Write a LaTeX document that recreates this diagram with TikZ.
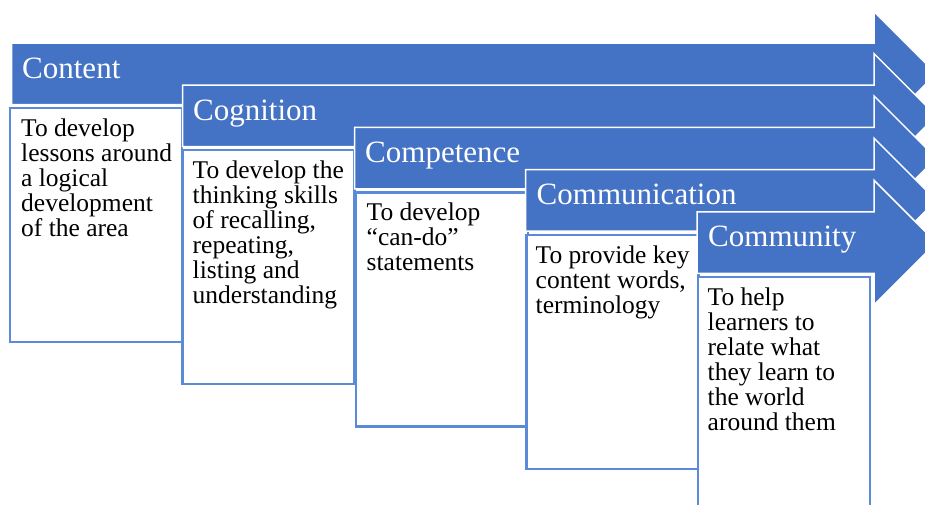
\documentclass[tikz,border=0pt]{standalone}
\usepackage{fontspec}
\setmainfont{Liberation Serif}
\definecolor{band}{HTML}{4472C4}
\definecolor{boxline}{HTML}{5A8AD8}
\newcommand\stagearrow[4]{% #1 index, #2 left x, #3 band top, #4 box x offset
  \pgfmathsetmacro\sT{#3}
  \pgfmathsetmacro\sB{#3+61.5}
  \pgfmathsetmacro\hT{#3-31.5}
  \pgfmathsetmacro\hB{#3+61.5+31.5}
  \pgfmathsetmacro\sC{#3+30.75}
  \coordinate (a#1nw) at (#2,\sT);
  \coordinate (a#1ne) at (874,\sT);
  \coordinate (a#1ht) at (874,\hT);
  \coordinate (a#1tip) at (936.25,\sC);
  \coordinate (a#1hb) at (874,\hB);
  \coordinate (a#1se) at (874,\sB);
  \coordinate (a#1sw) at (#2,\sB);
  \draw[arrowband] (a#1nw) -- (a#1ne) -- (a#1ht) -- (a#1tip) -- (a#1hb) -- (a#1se) -- (a#1sw) -- cycle;
  \pgfmathsetmacro\bX{#2+#4}
  \pgfmathsetmacro\bY{#3+65}
  \node[textbox, anchor=north west] (box#1) at (\bX,\bY) {};
}
\begin{document}
\begin{tikzpicture}[x=1pt,y=-1pt,
  arrowband/.style={fill=band, draw=white, line width=1.5pt, line join=miter},
  textbox/.style={draw=boxline, line width=2.2pt, fill=white, minimum width=172pt, minimum height=234pt, inner sep=0pt, outer sep=0pt},
  headtext/.style={text=white, font=\fontsize{31}{31}\selectfont, anchor=base west, inner sep=0pt},
  bodytext/.style={text=black, font=\fontsize{25.5}{25}\selectfont, anchor=north west, inner sep=0pt, align=left}]
\useasboundingbox (0,0) rectangle (925,504);
\clip (0,0) rectangle (925,504);

\stagearrow{1}{11.5}{43}{-1.5}
\node[headtext] (h1) at (22,78) {Content};
\node[bodytext] (t1) at (21,118.5) {To develop\\lessons around\\a logical\\development\\of the area};

\stagearrow{2}{182.5}{85.2}{0}
\node[headtext] (h2) at (193,120.2) {Cognition};
\node[bodytext] (t2) at (192.5,160.7) {To develop the\\thinking skills\\of recalling,\\repeating,\\listing and\\understanding};

\stagearrow{3}{354.5}{127.4}{1.5}
\node[headtext] (h3) at (365,162.4) {Competence};
\node[bodytext] (t3) at (366.5,202.9) {To develop\\“can-do”\\statements};

\stagearrow{4}{525.5}{169.6}{1}
\node[headtext] (h4) at (536.5,204.6) {Communication};
\node[bodytext] (t4) at (535.5,245.1) {To provide key\\content words,\\terminology};

\stagearrow{5}{697}{211.8}{1}
\node[headtext] (h5) at (708,246.8) {Community};
\node[bodytext] (t5) at (707.5,287.3) {To help\\learners to\\relate what\\they learn to\\the world\\around them};
\end{tikzpicture}
\end{document}
